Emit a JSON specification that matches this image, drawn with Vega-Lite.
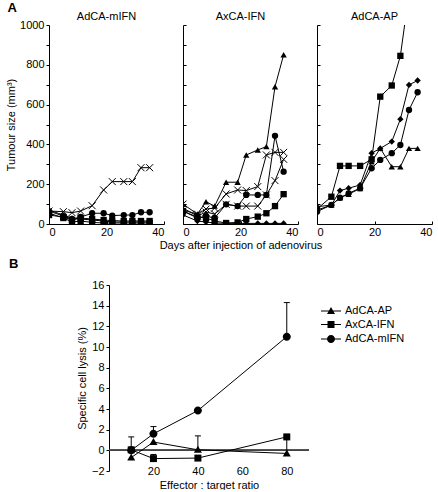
{
  "$schema": "https://vega.github.io/schema/vega-lite/v6.json",
  "padding": {"left": 5, "top": 2, "right": 0, "bottom": 0},
  "background": "white",
  "title": {"text": "A", "anchor": "start", "fontSize": 13, "fontWeight": "bold", "offset": -4, "dx": 2},
  "config": {
    "font": "Liberation Sans",
    "view": {"stroke": null},
    "axis": {"labelFont": "Liberation Sans", "labelFontSize": 11, "labelColor": "black", "titleFont": "Liberation Sans", "titleFontSize": 11, "titleFontWeight": "normal", "titleColor": "black", "domainColor": "black", "tickColor": "black", "grid": false, "tickSize": 3, "labelPadding": 2},
    "title": {"font": "Liberation Sans", "fontSize": 11, "fontWeight": "normal", "color": "black"},
    "legend": {"labelFont": "Liberation Sans", "labelFontSize": 11, "labelColor": "black"}
  },
  "datasets": {
    "tumour": [
      {"panel":"AdCA-mIFN","series":"x1","marker":"cross","day":0,"size":65},
      {"panel":"AdCA-mIFN","series":"x1","marker":"cross","day":5,"size":62},
      {"panel":"AdCA-mIFN","series":"x1","marker":"cross","day":8,"size":57},
      {"panel":"AdCA-mIFN","series":"x1","marker":"cross","day":11,"size":65},
      {"panel":"AdCA-mIFN","series":"x1","marker":"cross","day":15,"size":92},
      {"panel":"AdCA-mIFN","series":"x1","marker":"cross","day":19,"size":171},
      {"panel":"AdCA-mIFN","series":"x1","marker":"cross","day":22,"size":213},
      {"panel":"AdCA-mIFN","series":"x1","marker":"cross","day":26,"size":213},
      {"panel":"AdCA-mIFN","series":"x1","marker":"cross","day":29,"size":213},
      {"panel":"AdCA-mIFN","series":"x1","marker":"cross","day":32,"size":283},
      {"panel":"AdCA-mIFN","series":"x1","marker":"cross","day":35,"size":283},
      {"panel":"AdCA-mIFN","series":"c1","marker":"circle","day":0,"size":65},
      {"panel":"AdCA-mIFN","series":"c1","marker":"circle","day":5,"size":40},
      {"panel":"AdCA-mIFN","series":"c1","marker":"circle","day":8,"size":25},
      {"panel":"AdCA-mIFN","series":"c1","marker":"circle","day":11,"size":35},
      {"panel":"AdCA-mIFN","series":"c1","marker":"circle","day":15,"size":54},
      {"panel":"AdCA-mIFN","series":"c1","marker":"circle","day":19,"size":54},
      {"panel":"AdCA-mIFN","series":"c1","marker":"circle","day":22,"size":42},
      {"panel":"AdCA-mIFN","series":"c1","marker":"circle","day":26,"size":45},
      {"panel":"AdCA-mIFN","series":"c1","marker":"circle","day":29,"size":45},
      {"panel":"AdCA-mIFN","series":"c1","marker":"circle","day":32,"size":59},
      {"panel":"AdCA-mIFN","series":"c1","marker":"circle","day":35,"size":59},
      {"panel":"AdCA-mIFN","series":"s1","marker":"square","day":0,"size":55},
      {"panel":"AdCA-mIFN","series":"s1","marker":"square","day":5,"size":30},
      {"panel":"AdCA-mIFN","series":"s1","marker":"square","day":8,"size":10},
      {"panel":"AdCA-mIFN","series":"s1","marker":"square","day":11,"size":15},
      {"panel":"AdCA-mIFN","series":"s1","marker":"square","day":15,"size":8},
      {"panel":"AdCA-mIFN","series":"s1","marker":"square","day":19,"size":5},
      {"panel":"AdCA-mIFN","series":"s1","marker":"square","day":22,"size":5},
      {"panel":"AdCA-mIFN","series":"s1","marker":"square","day":26,"size":5},
      {"panel":"AdCA-mIFN","series":"s1","marker":"square","day":29,"size":5},
      {"panel":"AdCA-mIFN","series":"s1","marker":"square","day":32,"size":5},
      {"panel":"AdCA-mIFN","series":"s1","marker":"square","day":35,"size":5},
      {"panel":"AdCA-mIFN","series":"s2","marker":"square","day":0,"size":45},
      {"panel":"AdCA-mIFN","series":"s2","marker":"square","day":5,"size":35},
      {"panel":"AdCA-mIFN","series":"s2","marker":"square","day":8,"size":20},
      {"panel":"AdCA-mIFN","series":"s2","marker":"square","day":11,"size":30},
      {"panel":"AdCA-mIFN","series":"s2","marker":"square","day":15,"size":25},
      {"panel":"AdCA-mIFN","series":"s2","marker":"square","day":19,"size":20},
      {"panel":"AdCA-mIFN","series":"s2","marker":"square","day":22,"size":17},
      {"panel":"AdCA-mIFN","series":"s2","marker":"square","day":26,"size":15},
      {"panel":"AdCA-mIFN","series":"s2","marker":"square","day":29,"size":15},
      {"panel":"AdCA-mIFN","series":"s2","marker":"square","day":32,"size":15},
      {"panel":"AdCA-mIFN","series":"s2","marker":"square","day":35,"size":15},
      {"panel":"AdCA-mIFN","series":"t1","marker":"triangle","day":0,"size":70},
      {"panel":"AdCA-mIFN","series":"t1","marker":"triangle","day":5,"size":45},
      {"panel":"AdCA-mIFN","series":"t1","marker":"triangle","day":8,"size":30},
      {"panel":"AdCA-mIFN","series":"t1","marker":"triangle","day":11,"size":25},
      {"panel":"AdCA-mIFN","series":"t1","marker":"triangle","day":15,"size":20},
      {"panel":"AdCA-mIFN","series":"t1","marker":"triangle","day":19,"size":15},
      {"panel":"AdCA-mIFN","series":"t1","marker":"triangle","day":22,"size":10},
      {"panel":"AdCA-mIFN","series":"t1","marker":"triangle","day":26,"size":10},
      {"panel":"AdCA-mIFN","series":"t1","marker":"triangle","day":29,"size":10},
      {"panel":"AdCA-mIFN","series":"t1","marker":"triangle","day":32,"size":10},
      {"panel":"AdCA-mIFN","series":"t1","marker":"triangle","day":35,"size":10},

      {"panel":"AxCA-IFN","series":"t1","marker":"triangle","day":0,"size":70},
      {"panel":"AxCA-IFN","series":"t1","marker":"triangle","day":5,"size":50},
      {"panel":"AxCA-IFN","series":"t1","marker":"triangle","day":8,"size":112},
      {"panel":"AxCA-IFN","series":"t1","marker":"triangle","day":11,"size":90},
      {"panel":"AxCA-IFN","series":"t1","marker":"triangle","day":15,"size":210},
      {"panel":"AxCA-IFN","series":"t1","marker":"triangle","day":19,"size":210},
      {"panel":"AxCA-IFN","series":"t1","marker":"triangle","day":22,"size":347},
      {"panel":"AxCA-IFN","series":"t1","marker":"triangle","day":26,"size":372},
      {"panel":"AxCA-IFN","series":"t1","marker":"triangle","day":29,"size":389},
      {"panel":"AxCA-IFN","series":"t1","marker":"triangle","day":32,"size":690},
      {"panel":"AxCA-IFN","series":"t1","marker":"triangle","day":35,"size":850},
      {"panel":"AxCA-IFN","series":"c1","marker":"circle","day":0,"size":65},
      {"panel":"AxCA-IFN","series":"c1","marker":"circle","day":5,"size":30},
      {"panel":"AxCA-IFN","series":"c1","marker":"circle","day":8,"size":40},
      {"panel":"AxCA-IFN","series":"c1","marker":"circle","day":11,"size":30},
      {"panel":"AxCA-IFN","series":"c1","marker":"circle","day":15,"size":99},
      {"panel":"AxCA-IFN","series":"c1","marker":"circle","day":19,"size":90},
      {"panel":"AxCA-IFN","series":"c1","marker":"circle","day":22,"size":146},
      {"panel":"AxCA-IFN","series":"c1","marker":"circle","day":26,"size":146},
      {"panel":"AxCA-IFN","series":"c1","marker":"circle","day":29,"size":146},
      {"panel":"AxCA-IFN","series":"c1","marker":"circle","day":32,"size":443},
      {"panel":"AxCA-IFN","series":"c1","marker":"circle","day":35,"size":263},
      {"panel":"AxCA-IFN","series":"x1","marker":"cross","day":0,"size":100},
      {"panel":"AxCA-IFN","series":"x1","marker":"cross","day":5,"size":50},
      {"panel":"AxCA-IFN","series":"x1","marker":"cross","day":8,"size":75},
      {"panel":"AxCA-IFN","series":"x1","marker":"cross","day":11,"size":80},
      {"panel":"AxCA-IFN","series":"x1","marker":"cross","day":15,"size":151},
      {"panel":"AxCA-IFN","series":"x1","marker":"cross","day":19,"size":171},
      {"panel":"AxCA-IFN","series":"x1","marker":"cross","day":22,"size":168},
      {"panel":"AxCA-IFN","series":"x1","marker":"cross","day":26,"size":188},
      {"panel":"AxCA-IFN","series":"x1","marker":"cross","day":29,"size":347},
      {"panel":"AxCA-IFN","series":"x1","marker":"cross","day":32,"size":360},
      {"panel":"AxCA-IFN","series":"x1","marker":"cross","day":35,"size":360},
      {"panel":"AxCA-IFN","series":"x2","marker":"cross","day":0,"size":80},
      {"panel":"AxCA-IFN","series":"x2","marker":"cross","day":5,"size":40},
      {"panel":"AxCA-IFN","series":"x2","marker":"cross","day":8,"size":60},
      {"panel":"AxCA-IFN","series":"x2","marker":"cross","day":11,"size":50},
      {"panel":"AxCA-IFN","series":"x2","marker":"cross","day":15,"size":99},
      {"panel":"AxCA-IFN","series":"x2","marker":"cross","day":19,"size":90},
      {"panel":"AxCA-IFN","series":"x2","marker":"cross","day":22,"size":90},
      {"panel":"AxCA-IFN","series":"x2","marker":"cross","day":26,"size":90},
      {"panel":"AxCA-IFN","series":"x2","marker":"cross","day":29,"size":146},
      {"panel":"AxCA-IFN","series":"x2","marker":"cross","day":32,"size":218},
      {"panel":"AxCA-IFN","series":"x2","marker":"cross","day":35,"size":325},
      {"panel":"AxCA-IFN","series":"s1","marker":"square","day":0,"size":65},
      {"panel":"AxCA-IFN","series":"s1","marker":"square","day":5,"size":35},
      {"panel":"AxCA-IFN","series":"s1","marker":"square","day":8,"size":30},
      {"panel":"AxCA-IFN","series":"s1","marker":"square","day":11,"size":15},
      {"panel":"AxCA-IFN","series":"s1","marker":"square","day":15,"size":5},
      {"panel":"AxCA-IFN","series":"s1","marker":"square","day":19,"size":8},
      {"panel":"AxCA-IFN","series":"s1","marker":"square","day":22,"size":25},
      {"panel":"AxCA-IFN","series":"s1","marker":"square","day":26,"size":37},
      {"panel":"AxCA-IFN","series":"s1","marker":"square","day":29,"size":54},
      {"panel":"AxCA-IFN","series":"s1","marker":"square","day":32,"size":90},
      {"panel":"AxCA-IFN","series":"s1","marker":"square","day":35,"size":150},
      {"panel":"AxCA-IFN","series":"d1","marker":"diamond","day":0,"size":45},
      {"panel":"AxCA-IFN","series":"d1","marker":"diamond","day":5,"size":15},
      {"panel":"AxCA-IFN","series":"d1","marker":"diamond","day":8,"size":10},
      {"panel":"AxCA-IFN","series":"d1","marker":"diamond","day":11,"size":5},
      {"panel":"AxCA-IFN","series":"d1","marker":"diamond","day":15,"size":3},
      {"panel":"AxCA-IFN","series":"d1","marker":"diamond","day":19,"size":3},
      {"panel":"AxCA-IFN","series":"d1","marker":"diamond","day":22,"size":3},
      {"panel":"AxCA-IFN","series":"d1","marker":"diamond","day":26,"size":3},
      {"panel":"AxCA-IFN","series":"d1","marker":"diamond","day":29,"size":3},
      {"panel":"AxCA-IFN","series":"d1","marker":"diamond","day":32,"size":3},
      {"panel":"AxCA-IFN","series":"d1","marker":"diamond","day":35,"size":3},

      {"panel":"AdCA-AP","series":"s1","marker":"square","day":0,"size":75},
      {"panel":"AdCA-AP","series":"s1","marker":"square","day":5,"size":137},
      {"panel":"AdCA-AP","series":"s1","marker":"square","day":8,"size":292},
      {"panel":"AdCA-AP","series":"s1","marker":"square","day":11,"size":292},
      {"panel":"AdCA-AP","series":"s1","marker":"square","day":15,"size":292},
      {"panel":"AdCA-AP","series":"s1","marker":"square","day":19,"size":325},
      {"panel":"AdCA-AP","series":"s1","marker":"square","day":22,"size":640},
      {"panel":"AdCA-AP","series":"s1","marker":"square","day":26,"size":696},
      {"panel":"AdCA-AP","series":"s1","marker":"square","day":29,"size":845},
      {"panel":"AdCA-AP","series":"s1","marker":"square","day":32,"size":1160},
      {"panel":"AdCA-AP","series":"d1","marker":"diamond","day":0,"size":87},
      {"panel":"AdCA-AP","series":"d1","marker":"diamond","day":5,"size":95},
      {"panel":"AdCA-AP","series":"d1","marker":"diamond","day":8,"size":168},
      {"panel":"AdCA-AP","series":"d1","marker":"diamond","day":11,"size":180},
      {"panel":"AdCA-AP","series":"d1","marker":"diamond","day":15,"size":196},
      {"panel":"AdCA-AP","series":"d1","marker":"diamond","day":19,"size":356},
      {"panel":"AdCA-AP","series":"d1","marker":"diamond","day":22,"size":380},
      {"panel":"AdCA-AP","series":"d1","marker":"diamond","day":26,"size":414},
      {"panel":"AdCA-AP","series":"d1","marker":"diamond","day":29,"size":527},
      {"panel":"AdCA-AP","series":"d1","marker":"diamond","day":32,"size":699},
      {"panel":"AdCA-AP","series":"d1","marker":"diamond","day":35,"size":721},
      {"panel":"AdCA-AP","series":"c1","marker":"circle","day":0,"size":62},
      {"panel":"AdCA-AP","series":"c1","marker":"circle","day":5,"size":96},
      {"panel":"AdCA-AP","series":"c1","marker":"circle","day":8,"size":132},
      {"panel":"AdCA-AP","series":"c1","marker":"circle","day":11,"size":154},
      {"panel":"AdCA-AP","series":"c1","marker":"circle","day":15,"size":180},
      {"panel":"AdCA-AP","series":"c1","marker":"circle","day":19,"size":280},
      {"panel":"AdCA-AP","series":"c1","marker":"circle","day":22,"size":322},
      {"panel":"AdCA-AP","series":"c1","marker":"circle","day":26,"size":356},
      {"panel":"AdCA-AP","series":"c1","marker":"circle","day":29,"size":397},
      {"panel":"AdCA-AP","series":"c1","marker":"circle","day":32,"size":573},
      {"panel":"AdCA-AP","series":"c1","marker":"circle","day":35,"size":662},
      {"panel":"AdCA-AP","series":"t1","marker":"triangle","day":0,"size":70},
      {"panel":"AdCA-AP","series":"t1","marker":"triangle","day":5,"size":95},
      {"panel":"AdCA-AP","series":"t1","marker":"triangle","day":8,"size":132},
      {"panel":"AdCA-AP","series":"t1","marker":"triangle","day":11,"size":150},
      {"panel":"AdCA-AP","series":"t1","marker":"triangle","day":15,"size":178},
      {"panel":"AdCA-AP","series":"t1","marker":"triangle","day":19,"size":313},
      {"panel":"AdCA-AP","series":"t1","marker":"triangle","day":22,"size":380},
      {"panel":"AdCA-AP","series":"t1","marker":"triangle","day":26,"size":288},
      {"panel":"AdCA-AP","series":"t1","marker":"triangle","day":29,"size":288},
      {"panel":"AdCA-AP","series":"t1","marker":"triangle","day":32,"size":380},
      {"panel":"AdCA-AP","series":"t1","marker":"triangle","day":35,"size":380}
    ],
    "lysis": [
      {"series":"AdCA-AP","ratio":10,"lysis":-0.7},
      {"series":"AdCA-AP","ratio":20,"lysis":0.8},
      {"series":"AdCA-AP","ratio":40,"lysis":0.05,"upper":1.4},
      {"series":"AdCA-AP","ratio":80,"lysis":-0.3,"upper":1.3},
      {"series":"AxCA-IFN","ratio":10,"lysis":0.05},
      {"series":"AxCA-IFN","ratio":20,"lysis":-0.8,"upper":-0.4},
      {"series":"AxCA-IFN","ratio":40,"lysis":-0.75},
      {"series":"AxCA-IFN","ratio":80,"lysis":1.3},
      {"series":"AdCA-mIFN","ratio":10,"lysis":0.0,"upper":1.3},
      {"series":"AdCA-mIFN","ratio":20,"lysis":1.6,"upper":2.3},
      {"series":"AdCA-mIFN","ratio":40,"lysis":3.85},
      {"series":"AdCA-mIFN","ratio":80,"lysis":11.0,"upper":14.3}
    ]
  },
  "bounds": "flush",
  "spacing": 260,
  "resolve": {"scale": {"shape": "independent"}, "legend": {"shape": "independent"}},
  "vconcat": [
    {
      "bounds": "flush",
      "spacing": 19,
      "hconcat": [
        {
          "width": 115, "height": 199,
          "title": {"text": "AdCA-mIFN", "offset": -3},
          "data": {"name": "tumour"},
          "transform": [{"filter": "datum.panel === 'AdCA-mIFN'"}],
          "encoding": {
            "x": {"field": "day", "type": "quantitative", "scale": {"domain": [0, 40]}, "axis": {"values": [0, 20, 40], "title": null, "tickSize": -3, "labelPadding": 5}},
            "y": {"field": "size", "type": "quantitative", "scale": {"domain": [0, 1000]}, "axis": {"values": [0,100,200,300,400,500,600,700,800,900,1000], "format": "d", "labelExpr": "datum.value % 200 === 0 ? datum.label : ''", "title": "Tumour size (mm³)", "titlePadding": 3}}
          },
          "layer": [
            {"mark": {"type": "line", "color": "black", "strokeWidth": 1, "clip": true}, "encoding": {"detail": {"field": "series"}}},
            {"transform": [{"filter": "datum.marker !== 'cross'"}], "mark": {"type": "point", "filled": true, "color": "black", "size": 40, "opacity": 1, "clip": true}, "encoding": {"shape": {"field": "marker", "type": "nominal", "scale": {"domain": ["circle", "square", "triangle", "diamond"], "range": ["circle", "square", "triangle-up", "diamond"]}, "legend": null}}},
            {"transform": [{"filter": "datum.marker === 'cross'"}], "mark": {"type": "point", "filled": false, "shape": "M-1,-1L1,1M-1,1L1,-1", "color": "black", "strokeWidth": 1, "size": 49, "opacity": 1, "clip": true}}
          ]
        },
        {
          "width": 115, "height": 199,
          "title": {"text": "AxCA-IFN", "offset": 2.5},
          "data": {"name": "tumour"},
          "transform": [{"filter": "datum.panel === 'AxCA-IFN'"}],
          "encoding": {
            "x": {"field": "day", "type": "quantitative", "scale": {"domain": [0, 40]}, "axis": {"values": [0, 20, 40], "title": "Days after injection of adenovirus", "titlePadding": 2, "tickSize": -3, "labelPadding": 5}},
            "y": {"field": "size", "type": "quantitative", "scale": {"domain": [0, 1000]}, "axis": {"values": [0,100,200,300,400,500,600,700,800,900,1000], "labels": false, "title": null, "tickSize": -3}}
          },
          "layer": [
            {"mark": {"type": "line", "color": "black", "strokeWidth": 1, "clip": true}, "encoding": {"detail": {"field": "series"}}},
            {"transform": [{"filter": "datum.marker !== 'cross'"}], "mark": {"type": "point", "filled": true, "color": "black", "size": 40, "opacity": 1, "clip": true}, "encoding": {"shape": {"field": "marker", "type": "nominal", "scale": {"domain": ["circle", "square", "triangle", "diamond"], "range": ["circle", "square", "triangle-up", "diamond"]}, "legend": null}}},
            {"transform": [{"filter": "datum.marker === 'cross'"}], "mark": {"type": "point", "filled": false, "shape": "M-1,-1L1,1M-1,1L1,-1", "color": "black", "strokeWidth": 1, "size": 49, "opacity": 1, "clip": true}}
          ]
        },
        {
          "width": 115, "height": 199,
          "title": {"text": "AdCA-AP", "offset": 2.5},
          "data": {"name": "tumour"},
          "transform": [{"filter": "datum.panel === 'AdCA-AP'"}],
          "encoding": {
            "x": {"field": "day", "type": "quantitative", "scale": {"domain": [0, 40]}, "axis": {"values": [0, 20, 40], "title": null, "tickSize": -3, "labelPadding": 5}},
            "y": {"field": "size", "type": "quantitative", "scale": {"domain": [0, 1000]}, "axis": {"values": [0,100,200,300,400,500,600,700,800,900,1000], "labels": false, "title": null, "tickSize": -3}}
          },
          "layer": [
            {"mark": {"type": "line", "color": "black", "strokeWidth": 1, "clip": true}, "encoding": {"detail": {"field": "series"}}},
            {"transform": [{"filter": "datum.marker !== 'cross'"}], "mark": {"type": "point", "filled": true, "color": "black", "size": 40, "opacity": 1, "clip": true}, "encoding": {"shape": {"field": "marker", "type": "nominal", "scale": {"domain": ["circle", "square", "triangle", "diamond"], "range": ["circle", "square", "triangle-up", "diamond"]}, "legend": null}}},
            {"transform": [{"filter": "datum.marker === 'cross'"}], "mark": {"type": "point", "filled": false, "shape": "M-1,-1L1,1M-1,1L1,-1", "color": "black", "strokeWidth": 1, "size": 49, "opacity": 1, "clip": true}}
          ]
        }
      ]
    },
    {
      "width": 260, "height": 186,
      "title": {"text": "B", "anchor": "start", "fontSize": 13, "fontWeight": "bold", "dx": -40, "offset": 8},
      "data": {"name": "lysis"},
      "encoding": {
        "x": {"field": "ratio", "type": "quantitative", "scale": {"domain": [-27, 90]}, "axis": {"values": [20, 40, 60, 80], "domain": false, "ticks": false, "labelBaseline": "middle", "labelPadding": 0, "title": "Effector : target ratio", "titlePadding": 3, "titleX": 160}},
        "y": {"field": "lysis", "type": "quantitative", "scale": {"domain": [-2, 16]}, "axis": {"values": [-2,0,2,4,6,8,10,12,14,16], "offset": -60, "title": "Specific cell lysis (%)", "titlePadding": 4}}
      },
      "resolve": {"scale": {"shape": "independent"}, "legend": {"shape": "independent"}},
      "layer": [
        {"mark": {"type": "rule", "color": "#444444", "strokeWidth": 1}, "encoding": {"x": {"datum": 0}, "x2": {"datum": 90}, "y": {"datum": 0}}},
        {"transform": [{"filter": "isValid(datum.upper)"}], "mark": {"type": "rule", "color": "black", "strokeWidth": 1}, "encoding": {"y2": {"field": "upper"}}},
        {"transform": [{"filter": "isValid(datum.upper)"}], "mark": {"type": "tick", "orient": "horizontal", "size": 6, "thickness": 1, "color": "black", "opacity": 1}, "encoding": {"y": {"field": "upper", "type": "quantitative"}}},
        {"mark": {"type": "line", "color": "black", "strokeWidth": 1}, "encoding": {"detail": {"field": "series"}}},
        {"mark": {"type": "point", "filled": true, "color": "black", "size": 100, "opacity": 1},
         "encoding": {"shape": {"field": "series", "type": "nominal",
           "scale": {"domain": ["AdCA-AP", "AxCA-IFN", "AdCA-mIFN"],
                     "range": ["M0,-0.8L0.8,0.6H-0.8Z", "M-0.7,-0.7H0.7V0.7H-0.7Z", "M0.8,0A0.8,0.8,0,1,1,-0.8,0A0.8,0.8,0,1,1,0.8,0Z"]},
           "legend": null}}},
        {"mark": {"type": "point", "filled": true, "color": "black", "size": 100, "opacity": 0},
         "encoding": {"shape": {"field": "series", "type": "nominal",
           "scale": {"domain": ["AdCA-AP", "AxCA-IFN", "AdCA-mIFN"],
                     "range": ["M-2,-0.1H2V0.1H-2ZM0,-0.8L0.8,0.6H-0.8Z", "M-2,-0.1H2V0.1H-2ZM-0.7,-0.7H0.7V0.7H-0.7Z", "M-2,-0.1H2V0.1H-2ZM0.8,0A0.8,0.8,0,1,1,-0.8,0A0.8,0.8,0,1,1,0.8,0Z"]},
           "legend": {"title": null, "orient": "none", "legendX": 276, "legendY": 20, "symbolSize": 100, "symbolOpacity": 1, "symbolFillColor": "black", "labelOffset": 8, "rowPadding": 0.5, "padding": 0}}}}
      ]
    }
  ]
}
